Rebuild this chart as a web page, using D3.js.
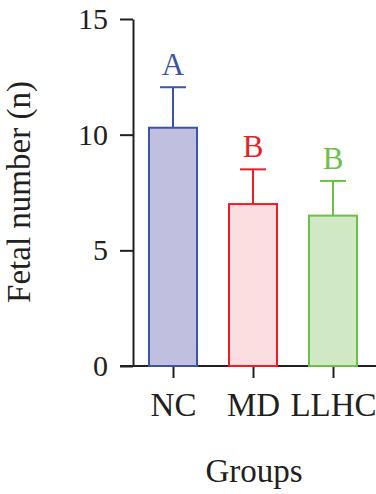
<!DOCTYPE html>
<html>
<head>
<meta charset="utf-8">
<script src="https://cdn.jsdelivr.net/npm/d3@7"></script>
<style>
	body { margin: 0; background: #fff; }
	svg { display: block; }
</style>
</head>
<body>
<div class="chart"></div>
<script>
// data
let groups = ['NC', 'MD', 'LLHC'];
let means = [10.3, 7.0, 6.5];
let errors = [1.75, 1.5, 1.5];
let letters = ['A', 'B', 'B'];
let yTicks = [0, 5, 10, 15];

let strokeColors = ['#3a55a8', '#ee1c25', '#6cc04a'];
let fillColors = ['#c1bfe0', '#fcdde0', '#d1e8c5'];

let width = 376, height = 494;
let font = '"Liberation Serif", "Times New Roman", serif';

let svg = d3.select('.chart').append('svg')
	.attr('width', width)
	.attr('height', height);

let xScale = d3.scalePoint().domain(groups).range([133, 373]).padding(0.5);
let yScale = d3.scaleLinear().domain([0, 15]).range([366, 19]);
let barWidth = 48;

//y轴
let yAxis = svg.append('g')
	.attr('transform', 'translate(133,0)')
	.call(d3.axisLeft(yScale).tickValues(yTicks).tickSize(13).tickPadding(12).tickSizeOuter(0));
yAxis.select('.domain').attr('stroke', '#231f20').attr('stroke-width', 2);
yAxis.selectAll('.tick line').attr('stroke', '#231f20').attr('stroke-width', 2);
yAxis.selectAll('.tick text')
	.attr('font-family', font)
	.attr('font-size', 30)
	.attr('fill', '#231f20');

//x轴
let xAxis = svg.append('g')
	.attr('transform', 'translate(0,366)')
	.call(d3.axisBottom(xScale).tickSize(12).tickPadding(15).tickSizeOuter(0));
xAxis.select('.domain').attr('d', 'M120,0H376').attr('stroke', '#231f20').attr('stroke-width', 2);
xAxis.selectAll('.tick line').attr('stroke', '#231f20').attr('stroke-width', 2);
xAxis.selectAll('.tick text')
	.attr('font-family', font)
	.attr('font-size', 33)
	.attr('fill', '#231f20');

let chart = svg.selectAll('.bar')
	.data(groups)
	.enter().append('g')
	.attr('class', 'bar');

// error bars
chart.append('line')
	.attr('x1', d => xScale(d))
	.attr('x2', d => xScale(d))
	.attr('y1', (d, i) => yScale(means[i]))
	.attr('y2', (d, i) => yScale(means[i] + errors[i]))
	.attr('stroke', (d, i) => strokeColors[i])
	.attr('stroke-width', 2);
chart.append('line')
	.attr('x1', d => xScale(d) - 13)
	.attr('x2', d => xScale(d) + 13)
	.attr('y1', (d, i) => yScale(means[i] + errors[i]))
	.attr('y2', (d, i) => yScale(means[i] + errors[i]))
	.attr('stroke', (d, i) => strokeColors[i])
	.attr('stroke-width', 2);

chart.append('rect')
	.attr('x', d => xScale(d) - barWidth / 2)
	.attr('y', (d, i) => yScale(means[i]))
	.attr('width', barWidth)
	.attr('height', (d, i) => yScale(0) - yScale(means[i]))
	.attr('fill', (d, i) => fillColors[i])
	.attr('stroke', (d, i) => strokeColors[i])
	.attr('stroke-width', 2);

chart.append('text')
	.attr('x', d => xScale(d))
	.attr('y', (d, i) => yScale(means[i] + errors[i]) - 12)
	.attr('text-anchor', 'middle')
	.attr('font-family', font)
	.attr('font-size', 31)
	.attr('fill', (d, i) => strokeColors[i])
	.text((d, i) => letters[i]);

// axis titles
svg.append('text')
	.attr('transform', 'translate(30,192) rotate(-90)')
	.attr('text-anchor', 'middle')
	.attr('font-family', font)
	.attr('font-size', 33)
	.attr('fill', '#231f20')
	.text('Fetal number (n)');

svg.append('text')
	.attr('x', 254)
	.attr('y', 482)
	.attr('text-anchor', 'middle')
	.attr('font-family', font)
	.attr('font-size', 33)
	.attr('fill', '#231f20')
	.text('Groups');
</script>
</body>
</html>
